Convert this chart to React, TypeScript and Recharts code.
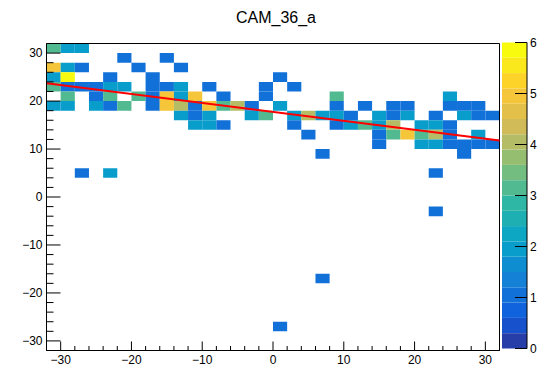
import { ComposedChart, Scatter, XAxis, YAxis, ReferenceArea, ReferenceLine } from 'recharts'

const TITLE = 'CAM_36_a'

// 32 x 32 bins, 2 units wide, from -32 to 32 on both axes
const binLow = -32
const binSize = 2

// y centre of every row that has entries (top to bottom)
const rowY = [31, 29, 27, 25, 23, 21, 19, 17, 15, 13, 11, 9, 5, -3, -17, -27]
// entries per x bin, x centre -31 ... 31, one digit per bin (groups of 10/10/12)
const rowCounts = [
	'3220000000 0000000000 000000000000',
	'0000010010 0000000000 000000000000',
	'5210001001 0000000000 000000000000',
	'2600100100 0000001000 000000000000',
	'3111220112 0100010100 000000000000',
	'0301303152 5010010000 300000002000',
	'2202130154 1534102000 101011001110',
	'0000000002 1200230242 210212010211',
	'0000000000 2210000100 123240221000',
	'0000000000 0000000010 000135341020',
	'0000000000 0000000000 000100221111',
	'0000000000 0000000001 000000000100',
	'0010200000 0000000000 000000010000',
	'0000000000 0000000000 000000010000',
	'0000000000 0000000001 000000000000',
	'0000000000 0000001000 000000000000'
]

// linear fit drawn over the histogram (end points at the frame edges)
const fitX = [-32, 32]
const fitY = [23.7, 11.8]

const majorTicks = [-30, -20, -10, 0, 10, 20, 30]
const zTicks = [0, 1, 2, 3, 4, 5, 6]
const zMax = 6
const zLevels = 20

// ROOT kBird palette
const birdStops = [0, 0.125, 0.25, 0.375, 0.5, 0.625, 0.75, 0.875, 1]
const birdR = [0.2082, 0.0592, 0.078, 0.0232, 0.1802, 0.5301, 0.8186, 0.9956, 0.9764]
const birdG = [0.1664, 0.3599, 0.5041, 0.6419, 0.7178, 0.7492, 0.7328, 0.7862, 0.9832]
const birdB = [0.5293, 0.8684, 0.8385, 0.7914, 0.6425, 0.4662, 0.3499, 0.1968, 0.0539]

function bird(f: number): string {
	let s = 0
	while (s < birdStops.length - 2 && f > birdStops[s + 1]) s++
	const t = (f - birdStops[s]) / (birdStops[s + 1] - birdStops[s])
	const c = (a: number[]) => Math.round((a[s] + (a[s + 1] - a[s]) * t) * 255)
	return `rgb(${c(birdR)},${c(birdG)},${c(birdB)})`
}

/** colour of contour level k, as THistPainter picks it out of 255 palette colours */
function levelColor(k: number): string {
	const idx = Math.floor(((k + 0.99) * 255) / zLevels)
	return bird(idx / 254)
}

function binColor(v: number): string {
	return levelColor(Math.min(zLevels - 1, Math.floor((v / zMax) * zLevels)))
}

const cells = rowCounts.flatMap((row, r) =>
	row
		.replace(/ /g, '')
		.split('')
		.map((c, i) => ({ x: binLow + binSize * (i + 0.5), y: rowY[r], z: Number(c) }))
		.filter(d => d.z > 0)
)

const allTicks: number[] = []
for (let v = -32; v <= 32; v += 2) allTicks.push(v)

const label = (v: number) => (v < 0 ? '\u2212' + Math.abs(v) : String(v))
const font = "'Liberation Sans', Arial, Helvetica, sans-serif"

function XTick(p: any) {
	const v = p.payload.value
	const major = v % 10 === 0
	return (
		<g>
			<line x1={p.x} y1={p.y} x2={p.x} y2={p.y - (major ? 9 : 4.5)} stroke='#000' />
			{major && (
				<text x={p.x} y={p.y + 13} textAnchor='middle' fontSize={12} fontFamily={font} fill='#000'>
					{label(v)}
				</text>
			)}
		</g>
	)
}

function YTick(p: any) {
	const v = p.payload.value
	const major = v % 10 === 0
	return (
		<g>
			<line x1={p.x} y1={p.y} x2={p.x + (major ? 14 : 7)} y2={p.y} stroke='#000' />
			{major && (
				<text x={p.x - 4} y={p.y + 4.3} textAnchor='end' fontSize={12} fontFamily={font} fill='#000'>
					{label(v)}
				</text>
			)}
		</g>
	)
}

function ZTick(p: any) {
	return (
		<g>
			<line x1={p.x} y1={p.y} x2={p.x - 12} y2={p.y} stroke='#000' />
			<text x={p.x + 3} y={p.y + 4.3} textAnchor='start' fontSize={12} fontFamily={font} fill='#000'>
				{p.payload.value}
			</text>
		</g>
	)
}

const levelData = Array.from({ length: zLevels }, (_, k) => ({ x: 0.5, y: ((k + 0.5) * zMax) / zLevels, k }))

export default function App() {
	return (
		<div style={{ position: 'absolute', left: 0, top: 0, width: 554, height: 368, background: '#fff', fontFamily: font }}>
			<div style={{ position: 'absolute', top: 10, left: 0, width: 552, textAlign: 'center', fontSize: 16, lineHeight: '16px', color: '#000' }}>
				{TITLE}
			</div>

			<div style={{ position: 'absolute', left: 0, top: 0 }}>
				<ComposedChart width={554} height={368} data={cells} margin={{ top: 43.5, right: 54.5, bottom: 0, left: 0 }}>
					{cells.map((c, i) => (
						<ReferenceArea
							key={i}
							x1={c.x - binSize / 2}
							x2={c.x + binSize / 2}
							y1={c.y - binSize / 2}
							y2={c.y + binSize / 2}
							fill={binColor(c.z)}
							fillOpacity={1}
							stroke='none'
						/>
					))}
					<ReferenceLine
						segment={[
							{ x: fitX[0], y: fitY[0] },
							{ x: fitX[1], y: fitY[1] }
						]}
						stroke='#ff0000'
						strokeWidth={2}
					/>
					<ReferenceArea x1={-32} x2={32} y1={-32} y2={32} fill='none' stroke='#000' />
					<Scatter data={cells} dataKey='y' shape={() => <g />} isAnimationActive={false} />
					<XAxis
						type='number'
						dataKey='x'
						domain={[-32, 32]}
						ticks={allTicks}
						interval={0}
						height={17.5}
						tickSize={0}
						tickMargin={0}
						tickLine={false}
						axisLine={{ stroke: '#000' }}
						tick={(p: any) => <XTick {...p} />}
						allowDataOverflow
					/>
					<YAxis
						type='number'
						dataKey='y'
						domain={[-32, 32]}
						ticks={allTicks}
						interval={0}
						width={46.5}
						tickSize={0}
						tickMargin={0}
						tickLine={false}
						axisLine={{ stroke: '#000' }}
						tick={(p: any) => <YTick {...p} />}
						allowDataOverflow
					/>
				</ComposedChart>
			</div>

			<div style={{ position: 'absolute', left: 0, top: 0 }}>
				<ComposedChart width={554} height={368} data={levelData} margin={{ top: 42.5, right: 0, bottom: 19.5, left: 502 }}>
					{levelData.map(l => (
						<ReferenceArea
							key={l.k}
							x1={0}
							x2={1}
							y1={(l.k * zMax) / zLevels}
							y2={((l.k + 1) * zMax) / zLevels}
							fill={levelColor(l.k)}
							fillOpacity={1}
							stroke='none'
						/>
					))}
					<Scatter data={levelData} dataKey='y' shape={() => <g />} isAnimationActive={false} />
					<XAxis type='number' dataKey='x' domain={[0, 1]} hide />
					<YAxis
						yAxisId={0}
						orientation='right'
						type='number'
						dataKey='y'
						domain={[0, zMax]}
						ticks={zTicks}
						interval={0}
						width={27}
						tickSize={0}
						tickMargin={0}
						tickLine={false}
						axisLine={{ stroke: '#000' }}
						tick={(p: any) => <ZTick {...p} />}
					/>
				</ComposedChart>
			</div>
		</div>
	)
}
